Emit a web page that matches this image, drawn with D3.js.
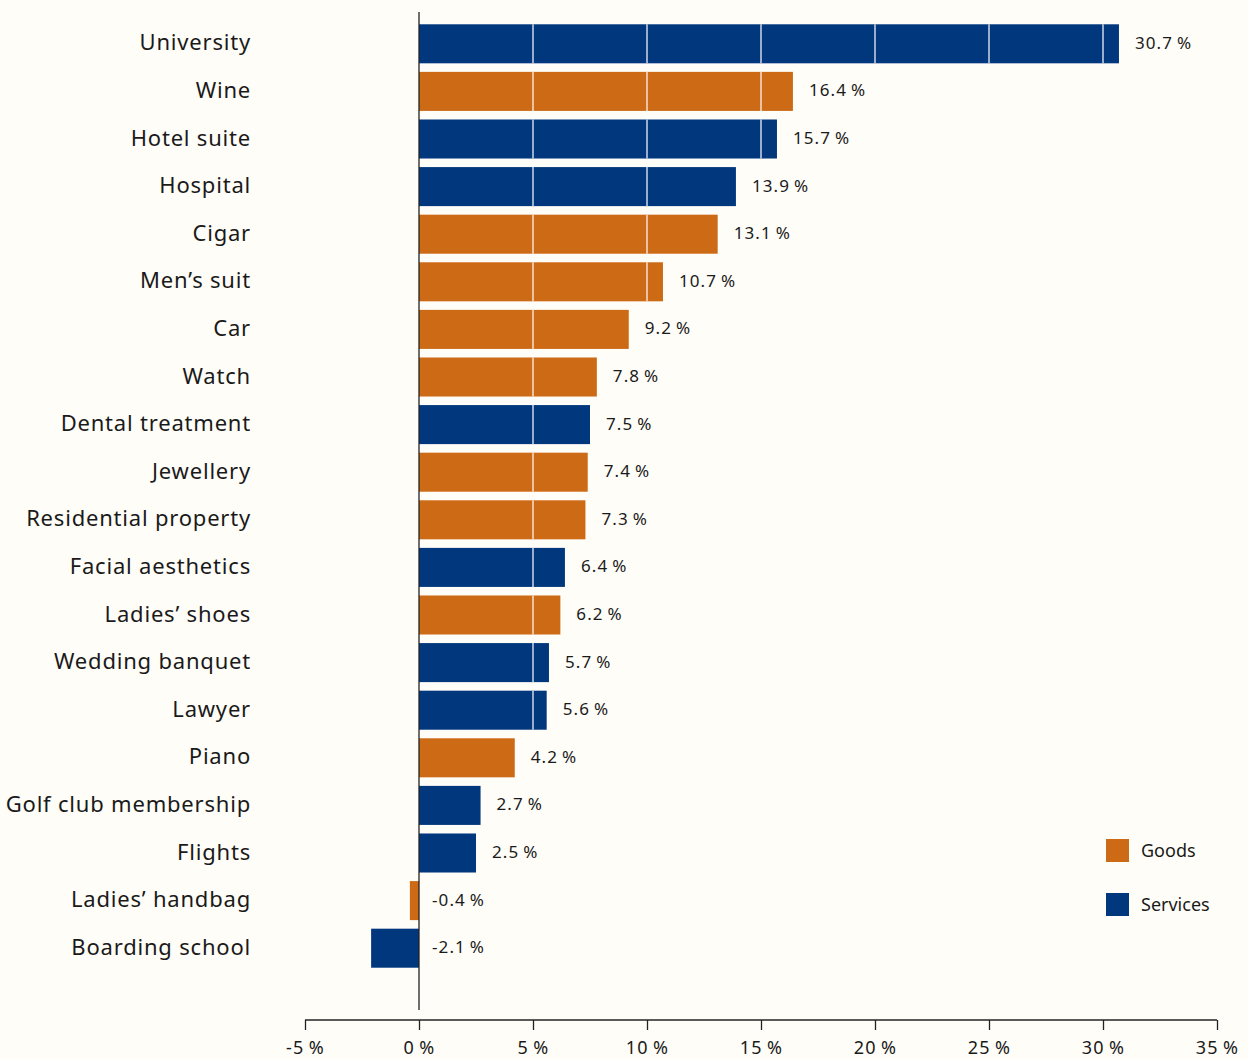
<!DOCTYPE html>
<html><head><meta charset="utf-8">
<script src="https://cdn.jsdelivr.net/npm/d3@7"></script>
<style>
html,body{margin:0;padding:0;background:#fffdf8;}
svg{display:block;}
text{font-family:"Noto Sans","DejaVu Sans",sans-serif;fill:#1a1a1a;}
</style></head><body>
<svg id="chart" width="1248" height="1059"></svg>
<script>
const categories = ["University","Wine","Hotel suite","Hospital","Cigar","Men’s suit","Car","Watch","Dental treatment","Jewellery","Residential property","Facial aesthetics","Ladies’ shoes","Wedding banquet","Lawyer","Piano","Golf club membership","Flights","Ladies’ handbag","Boarding school"];
const values = [30.7,16.4,15.7,13.9,13.1,10.7,9.2,7.8,7.5,7.4,7.3,6.4,6.2,5.7,5.6,4.2,2.7,2.5,-0.4,-2.1];
const types = ["Services","Goods","Services","Services","Goods","Goods","Goods","Goods","Services","Goods","Goods","Services","Goods","Services","Services","Goods","Services","Services","Goods","Services"];
const tickValues = [-5,0,5,10,15,20,25,30,35];
const legendKeys = ["Goods","Services"];

const color = d3.scaleOrdinal().domain(["Goods","Services"]).range(["#cd6a15","#00377d"]);
const svg = d3.select("#chart");
const x = d3.scaleLinear().domain([-5,35]).range([305,1217]);
const y = d3.scaleBand().domain(categories).range([20,972]).paddingInner(0.18).paddingOuter(0.09);

const data = categories.map((c,i)=>({c, v:values[i], t:types[i]}));

// bars
svg.append("g").selectAll("rect").data(data).join("rect")
  .attr("x", d=>x(Math.min(0,d.v)))
  .attr("width", d=>Math.abs(x(d.v)-x(0)))
  .attr("y", d=>y(d.c))
  .attr("height", y.bandwidth())
  .attr("fill", d=>color(d.t));

// white gridlines inside bars
const gl = [];
data.forEach(d=>tickValues.filter(t=>t>0 && t<d.v).forEach(t=>gl.push({c:d.c,t})));
svg.append("g").selectAll("line").data(gl).join("line")
  .attr("x1", d=>x(d.t)).attr("x2", d=>x(d.t))
  .attr("y1", d=>y(d.c)).attr("y2", d=>y(d.c)+y.bandwidth())
  .attr("stroke", "#ffffff").attr("stroke-opacity",0.8).attr("stroke-width",1.5);

// zero line
svg.append("line").attr("x1",x(0)).attr("x2",x(0)).attr("y1",12).attr("y2",1010)
  .attr("stroke","#222").attr("stroke-width",1.3);

// category labels
svg.append("g").selectAll("text").data(data).join("text")
  .attr("x",251).attr("y",d=>y(d.c)+y.bandwidth()/2-2.5)
  .attr("text-anchor","end").attr("dominant-baseline","central")
  .style("font-size","22px").style("letter-spacing","0.8px")
  .text(d=>d.c);

// value labels
svg.append("g").selectAll("text").data(data).join("text")
  .attr("x",d=>d.v>0 ? x(d.v)+16 : x(0)+13)
  .attr("y",d=>y(d.c)+y.bandwidth()/2-1.5)
  .attr("dominant-baseline","central")
  .style("font-size","17px").style("letter-spacing","1.1px")
  .text(d=>d.v.toFixed(1)+"\u2009%");

// x axis
const xAxis = d3.axisBottom(x).tickValues(tickValues).tickSize(10).tickFormat(d=>d+"\u2009%");
const ax = svg.append("g").attr("transform","translate(0,1020)").call(xAxis);
ax.select(".domain").attr("stroke","#222").attr("stroke-width",1.3).attr("d","M"+x(-5)+",0H"+x(35));
ax.selectAll(".tick line").attr("stroke","#222").attr("stroke-width",1.3);
ax.selectAll(".tick text").attr("y",21).attr("dy","0.71em")
  .style("font-size","18px").style("letter-spacing","1.3px").attr("fill","#1a1a1a")
  .style("font-family","'Noto Sans','DejaVu Sans',sans-serif");

// legend
const lg = svg.append("g").selectAll("g").data(legendKeys).join("g")
  .attr("transform",(d,i)=>`translate(1106,${839+i*54})`);
lg.append("rect").attr("width",23).attr("height",23).attr("fill",d=>color(d));
lg.append("text").attr("x",35).attr("y",10.5).attr("dominant-baseline","central")
  .style("font-size","18px").text(d=>d);
</script>
</body></html>
